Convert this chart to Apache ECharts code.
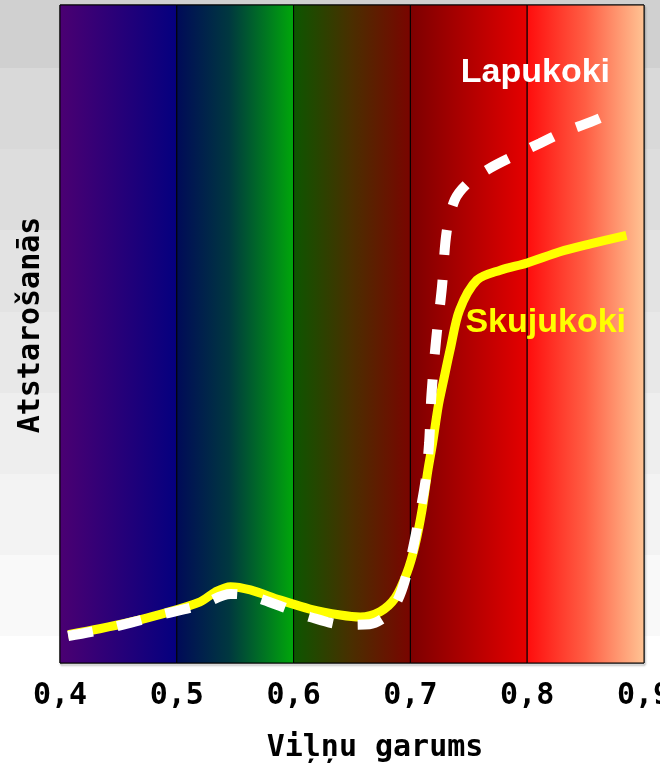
<!DOCTYPE html>
<html>
<head>
<meta charset="utf-8">
<script src="https://cdn.jsdelivr.net/npm/echarts@6/dist/echarts.min.js"></script>
<style>
html, body { margin: 0; padding: 0; background: #fff; }
#mainchart { width: 660px; height: 763px; }
</style>
</head>
<body>
<div id="mainchart"></div>
<script>
// vilnu garums (um) un atstarosana (relativa, 0-100)
var skujuX = [0.407, 0.434, 0.460, 0.486, 0.520, 0.533, 0.546, 0.563, 0.588, 0.614, 0.640, 0.657, 0.674, 0.687, 0.697, 0.704, 0.710, 0.715, 0.719, 0.724, 0.728, 0.734, 0.742, 0.757, 0.777, 0.800, 0.828, 0.854, 0.885];
var skujuY = [4.3, 5.2, 6.2, 7.4, 9.3, 10.8, 11.6, 11.1, 9.6, 8.2, 7.3, 7.0, 7.8, 9.9, 13.7, 17.9, 23.3, 29.3, 33.4, 39.2, 42.6, 47.6, 53.6, 58.2, 59.7, 60.8, 62.5, 63.7, 65.0];

var lapuX = [0.407, 0.434, 0.460, 0.486, 0.520, 0.546, 0.563, 0.588, 0.614, 0.644, 0.665, 0.681, 0.691, 0.700, 0.707, 0.713, 0.716, 0.718, 0.722, 0.727, 0.731, 0.738, 0.749, 0.768, 0.790, 0.811, 0.831, 0.854, 0.874];
var lapuY = [4.1, 5.0, 6.1, 7.3, 8.8, 10.5, 10.2, 8.7, 7.0, 5.8, 5.9, 7.4, 10.3, 15.7, 21.7, 27.8, 33.4, 40.7, 49.1, 57.1, 65.5, 70.4, 72.9, 75.2, 77.2, 79.0, 80.7, 82.2, 83.7];

var bandEdges = [0.4, 0.5, 0.6, 0.7, 0.8, 0.9];
var seriesNames = ['Skujukoki', 'Lapukoki'];

// spektra krasas katrai joslai
var bandStops = [
    [[0, '#4b0072'], [1, '#04007f']],
    [[0, '#000a58'], [0.45, '#00383f'], [1, '#00a80a']],
    [[0, '#0c5600'], [0.5, '#4a2e00'], [1, '#7a0400']],
    [[0, '#7c0000'], [1, '#e60000']],
    [[0, '#ff0c0c'], [0.5, '#ff5e44'], [1, '#ffc494']]
];

function grad(stops) {
    return new echarts.graphic.LinearGradient(0, 0, 1, 0, stops.map(function(s) {
        return { offset: s[0], color: s[1] };
    }));
}

function zip(xs, ys) {
    return xs.map(function(x, i) { return [x, ys[i]]; });
}

var areas = [];
for (var i = 0; i < bandEdges.length - 1; i++) {
    areas.push([
        { xAxis: bandEdges[i], itemStyle: { color: grad(bandStops[i]), borderColor: '#000', borderWidth: 1, opacity: 1 } },
        { xAxis: bandEdges[i + 1] }
    ]);
}

// pelekas joslas fonā
var bgBands = ['#d0d0d0', '#d9d9d9', '#dddddd', '#e3e3e3', '#e8e8e8', '#eeeeee', '#f3f3f3', '#f9f9f9', '#ffffff'];
var bgEdges = [0, 68, 149, 230, 312, 393, 474, 555, 636, 763];
var bgStops = [];
bgBands.forEach(function(c, i) {
    bgStops.push({ offset: bgEdges[i] / 763, color: c });
    bgStops.push({ offset: bgEdges[i + 1] / 763, color: c });
});

var myChart = echarts.init(document.getElementById('mainchart'));

var monoFont = 'DejaVu Sans Mono';

var option = {
    animation: false,
    graphic: [
        {
            type: 'rect', z: -10, silent: true,
            shape: { x: 0, y: 0, width: 660, height: 763 },
            style: { fill: new echarts.graphic.LinearGradient(0, 0, 0, 1, bgStops) }
        },
        {
            type: 'text', z: 50, right: 50, top: 56,
            style: { text: seriesNames[1], fill: '#fff', font: 'bold 34px "Liberation Sans", Arial, sans-serif' }
        },
        {
            type: 'text', z: 50, right: 34, top: 306,
            style: { text: seriesNames[0], fill: '#ffff00', font: 'bold 34px "Liberation Sans", Arial, sans-serif' }
        }
    ],
    grid: {
        left: 60, right: 16, top: 5, bottom: 100,
        outerBoundsMode: 'none',
        containLabel: false,
        show: true,
        borderColor: '#111',
        borderWidth: 1,
        shadowColor: 'rgba(0,0,0,0.45)',
        shadowBlur: 2,
        shadowOffsetX: 1,
        shadowOffsetY: 2
    },
    xAxis: {
        type: 'value',
        min: 0.4, max: 0.9, interval: 0.1,
        name: 'Viļņu garums',
        nameLocation: 'middle',
        nameGap: 70,
        nameTextStyle: { fontFamily: monoFont, fontWeight: 'bold', fontSize: 30, color: '#000', padding: [0, 0, 0, 46] },
        axisLine: { show: false },
        axisTick: { show: false },
        splitLine: { show: false },
        axisLabel: {
            margin: 18,
            fontFamily: monoFont, fontWeight: 'bold', fontSize: 30, color: '#000',
            formatter: function(v) { return v.toFixed(1).replace('.', ','); }
        }
    },
    yAxis: {
        type: 'value',
        min: 0, max: 100,
        name: 'Atstarošanās',
        nameLocation: 'middle',
        nameGap: 14,
        nameTextStyle: { fontFamily: monoFont, fontWeight: 'bold', fontSize: 30, color: '#000', padding: [0, 0, 0, 18] },
        axisLine: { show: false },
        axisTick: { show: false },
        axisLabel: { show: false },
        splitLine: { show: false }
    },
    series: [
        {
            type: 'line', z: 1, silent: true, data: [],
            markArea: { silent: true, data: areas }
        },
        {
            name: seriesNames[0],
            type: 'line', z: 3,
            smooth: 0.3,
            showSymbol: false,
            data: zip(skujuX, skujuY),
            lineStyle: { color: '#ffff00', width: 9 }
        },
        {
            name: seriesNames[1],
            type: 'line', z: 4,
            smooth: 0.3,
            showSymbol: false,
            data: zip(lapuX, lapuY),
            lineStyle: { color: '#ffffff', width: 10, type: [25, 25], cap: 'butt' }
        }
    ]
};
myChart.setOption(option);
</script>
</body>
</html>
